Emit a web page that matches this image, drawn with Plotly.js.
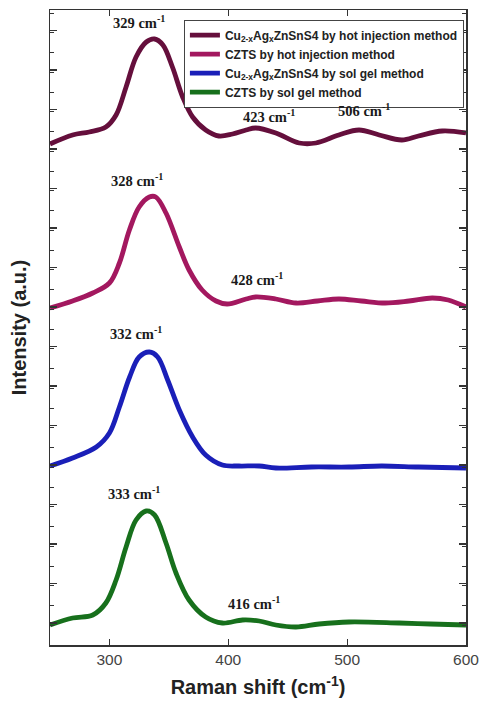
<!DOCTYPE html>
<html>
<head>
<meta charset="utf-8">
<script src="https://cdn.plot.ly/plotly-3.0.1.min.js"></script>
<style>html,body{margin:0;padding:0;background:#fff;}#chart{width:483px;height:706px;}</style>
</head>
<body>
<div id="chart"></div>
<script>
// Raman shift (cm-1) and intensity (a.u., offset stacked)
const agHotX = [250, 269, 283, 297, 305.6, 314, 322.4, 331, 338, 345, 353, 361.6, 370, 381, 392, 403.6, 415, 423, 440, 459.7, 473.7, 493, 510, 527, 546, 560, 580, 600];
const agHotY = [501, 510, 513, 518, 530, 558, 588, 603, 606, 600, 578, 548, 528, 515, 509, 511, 515, 517, 512, 502, 502, 510, 515, 510, 505, 509, 514, 512];

const cztsHotX = [250, 269, 286, 300, 308.4, 316.8, 325, 333.6, 339, 347.6, 358.8, 367, 378, 389.7, 399, 415, 423, 440, 457, 475, 493, 512, 532, 552, 571.6, 585, 600];
const cztsHotY = [337, 344, 352, 362, 382, 415, 438, 448, 448, 432, 398, 375, 355, 344, 341, 346, 348, 346, 342, 344, 346, 344, 342, 344, 347, 345, 338];

const agSolX = [250, 269, 289, 300, 308.4, 317, 325, 333.6, 340.6, 349, 358.8, 370, 381, 395, 409, 426, 440, 470, 501.7, 529, 560, 600];
const agSolY = [179, 187, 198, 212, 238, 268, 288, 293, 288, 265, 235, 208, 190, 180, 179, 179, 177, 178, 178, 179, 178, 177];

const cztsSolX = [250, 269, 286, 297, 305.6, 314, 322.4, 331, 338, 347.6, 356, 367, 381, 395, 412, 426, 440, 457, 476.5, 501.6, 543.7, 570, 600];
const cztsSolY = [20, 27, 30, 42, 65, 98, 125, 134, 130, 102, 72, 45, 28, 22, 25, 24, 20, 18, 21, 23, 22, 21, 20];

const seriesNames = [
  'Cu<sub>2-x</sub>Ag<sub>x</sub>ZnSnS4 by hot injection method',
  'CZTS by hot injection method',
  'Cu<sub>2-x</sub>Ag<sub>x</sub>ZnSnS4 by sol gel method',
  'CZTS by sol gel method'
];
const seriesColors = ['#650f3c', '#a3185f', '#1a1fb8', '#17701c'];

const peakLabelX = [325, 434.5, 514, 323.5, 424, 322, 321, 422];
const peakLabelY = [623, 529, 535, 465, 366, 312, 152, 42];
const peakLabelText = ['329 cm<sup>-1</sup>', '423 cm<sup>-1</sup>', '506 cm<sup>-1</sup>', '328 cm<sup>-1</sup>', '428 cm<sup>-1</sup>', '332 cm<sup>-1</sup>', '333 cm<sup>-1</sup>', '416 cm<sup>-1</sup>'];

const xs = [agHotX, cztsHotX, agSolX, cztsSolX];
const ys = [agHotY, cztsHotY, agSolY, cztsSolY];

const traces = xs.map((x, i) => ({
  x: x, y: ys[i], type: 'scatter', mode: 'lines', name: seriesNames[i],
  line: {color: seriesColors[i], width: 4.8, shape: 'spline', smoothing: 1}
}));

const annotations = peakLabelX.map((x, i) => ({
  x: x, y: peakLabelY[i], xref: 'x', yref: 'y', text: '<b>' + peakLabelText[i] + '</b>',
  showarrow: false, font: {family: 'Liberation Serif, Times New Roman, serif', size: 14.5, color: '#1a1a1a'}
}));

const layout = {
  width: 483, height: 706,
  margin: {l: 50, r: 17, t: 10, b: 61},
  paper_bgcolor: '#fff', plot_bgcolor: '#fff',
  showlegend: true,
  legend: {
    x: 0.995, y: 0.985, xanchor: 'right', yanchor: 'top',
    bgcolor: '#fff', bordercolor: '#444', borderwidth: 1,
    font: {family: 'Liberation Sans, Arial, sans-serif', size: 12, color: '#222', weight: 'bold'},
    tracegroupgap: 0, itemwidth: 30
  },
  xaxis: {
    range: [250, 600], tickvals: [300, 400, 500, 600], ticktext: ['300', '400', '500', '600'],
    ticks: 'inside', ticklen: 6, tickwidth: 1.2, tickcolor: '#333',
    showline: true, linecolor: '#333', linewidth: 1.5, mirror: 'ticks',
    showgrid: false, zeroline: false,
    tickfont: {family: 'Liberation Sans, Arial, sans-serif', size: 15.5, color: '#444'},
    title: {text: '<b>Raman shift (cm<sup>-1</sup>)</b>', font: {family: 'Liberation Sans, Arial, sans-serif', size: 20, color: '#222'}, standoff: 13}
  },
  yaxis: {
    range: [0, 635], tick0: 22, dtick: 39.5,
    ticks: 'inside', ticklen: 7, tickwidth: 1.2, tickcolor: '#333',
    minor: {dtick: 19.75, ticks: 'inside', ticklen: 4, tickcolor: '#333', tickwidth: 1},
    showticklabels: false,
    showline: true, linecolor: '#333', linewidth: 1.5, mirror: 'ticks',
    showgrid: false, zeroline: false,
    title: {text: '<b>Intensity (a.u.)</b>', font: {family: 'Liberation Sans, Arial, sans-serif', size: 20, color: '#222'}, standoff: 16}
  },
  annotations: annotations
};

Plotly.newPlot('chart', traces, layout, {displayModeBar: false, staticPlot: true});
</script>
</body>
</html>
